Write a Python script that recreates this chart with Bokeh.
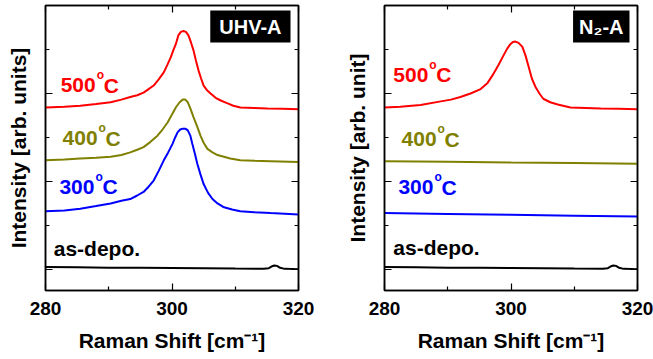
from bokeh.plotting import figure
from bokeh.models import Range1d, FixedTicker, LinearAxis, Label
from bokeh.layouts import row
from bokeh.embed import file_html
from bokeh.resources import INLINE

# ---------------- data ----------------
x_ticks = [280, 300, 320]
x_minor = [290, 310]
y_ticks = [0, 1, 2, 3]
y_minor = [0.5, 1.5, 2.5]

uhv_500_x = [280.0, 283.0, 285.5, 288.0, 290.3, 292.0, 293.4, 294.5, 295.5, 296.3, 297.1, 297.9, 298.7, 299.3,
             299.8, 300.2, 300.6, 301.0, 301.4, 301.8, 302.2, 302.6, 303.0, 303.4, 303.8, 304.2, 304.6, 305.0,
             305.5, 306.1, 306.9, 307.7, 308.7, 309.7, 310.8, 313.0, 315.1, 317.5, 320.0]
uhv_500_y = [1.84, 1.85, 1.86, 1.88, 1.90, 1.93, 1.96, 1.98, 2.01, 2.05, 2.09, 2.16, 2.24, 2.33,
             2.41, 2.49, 2.56, 2.66, 2.70, 2.71, 2.70, 2.66, 2.58, 2.49, 2.37, 2.26, 2.17, 2.09,
             2.04, 2.00, 1.95, 1.92, 1.89, 1.86, 1.84, 1.835, 1.83, 1.825, 1.82]

uhv_400_x = [280.0, 283.0, 285.5, 288.0, 290.3, 292.0, 293.4, 294.5, 295.5, 296.6, 297.7, 298.5, 299.3, 300.0,
             300.6, 301.2, 301.7, 302.1, 302.5, 302.9, 303.4, 304.0, 304.5, 305.0, 305.6, 306.4, 307.2, 308.2,
             309.2, 310.8, 313.0, 315.6, 320.0]
uhv_400_y = [1.24, 1.25, 1.26, 1.27, 1.28, 1.30, 1.33, 1.36, 1.39, 1.45, 1.52, 1.59, 1.67, 1.76,
             1.84, 1.90, 1.93, 1.93, 1.90, 1.83, 1.73, 1.62, 1.52, 1.44, 1.37, 1.33, 1.30, 1.28,
             1.26, 1.24, 1.235, 1.23, 1.22]

uhv_300_x = [280.0, 283.0, 285.5, 288.0, 290.3, 292.0, 293.4, 294.5, 295.5, 296.3, 297.1, 297.9, 298.7, 299.4,
             300.1, 300.5, 300.9, 301.3, 301.7, 302.1, 302.5, 302.9, 303.2, 303.6, 304.0, 304.5, 305.0, 305.7,
             306.4, 307.2, 308.1, 309.5, 310.8, 313.0, 315.6, 320.0]
uhv_300_y = [0.66, 0.67, 0.69, 0.72, 0.75, 0.78, 0.80, 0.84, 0.88, 0.94, 1.01, 1.12, 1.24, 1.33,
             1.43, 1.50, 1.56, 1.59, 1.60, 1.60, 1.58, 1.52, 1.43, 1.32, 1.20, 1.08, 0.97, 0.87,
             0.80, 0.75, 0.71, 0.68, 0.66, 0.65, 0.64, 0.625]

asdepo_x = [280.0, 285.0, 290.0, 295.0, 300.0, 305.0, 310.0, 314.5, 315.3, 315.8, 316.2, 316.6, 317.1, 317.8, 320.0]
asdepo_y = [0.026, 0.023, 0.02, 0.018, 0.016, 0.013, 0.01, 0.008, 0.014, 0.035, 0.045, 0.04, 0.018, 0.006, 0.003]

n2_500_x = [280.0, 282.5, 285.7, 288.9, 290.5, 292.0, 293.6, 295.2, 296.3, 297.2, 298.0, 298.8, 299.4, 299.9,
            300.3, 300.7, 301.2, 301.8, 302.3, 302.8, 303.3, 303.9, 304.5, 305.1, 306.2, 307.4, 309.4, 311.8,
            314.2, 317.0, 320.0]
n2_500_y = [1.84, 1.85, 1.87, 1.91, 1.93, 1.96, 2.00, 2.05, 2.12, 2.22, 2.32, 2.43, 2.51, 2.56,
            2.585, 2.59, 2.575, 2.53, 2.43, 2.30, 2.17, 2.07, 2.00, 1.94, 1.90, 1.875, 1.84, 1.835,
            1.83, 1.825, 1.82]

n2_400_x = [280.0, 290.0, 300.0, 310.0, 320.0]
n2_400_y = [1.23, 1.225, 1.215, 1.21, 1.20]

n2_300_x = [280.0, 290.0, 300.0, 310.0, 320.0]
n2_300_y = [0.64, 0.63, 0.62, 0.61, 0.60]

RED = "#ff0000"
OLIVE = "#808000"
BLUE = "#0000ff"
BLACK = "#000000"
FONT = "Liberation Sans"


def style_axis(ax, labels=True):
    ax.axis_line_color = "black"
    ax.axis_line_width = 1.5
    ax.major_tick_line_color = "black"
    ax.minor_tick_line_color = "black"
    ax.major_tick_line_width = 1.2
    ax.minor_tick_line_width = 1.2
    ax.major_tick_in = 7
    ax.major_tick_out = 0
    ax.minor_tick_in = 4
    ax.minor_tick_out = 0
    if labels:
        ax.major_label_text_font = FONT
        ax.major_label_text_font_style = "bold"
        ax.major_label_text_font_size = "19px"
        ax.major_label_text_color = "black"
        ax.major_label_standoff = 11
    else:
        ax.major_label_text_font_size = "1px"
        ax.major_label_text_alpha = 0
        ax.major_label_text_color = None
        ax.major_label_standoff = 0


def make_panel(width, bl, br, ylabel):
    p = figure(width=width, height=359, output_backend="svg", toolbar_location=None,
               x_range=Range1d(280, 320), y_range=Range1d(-0.24, 3.0),
               min_border_left=bl, min_border_right=br, min_border_top=5, min_border_bottom=69,
               x_axis_location=None, y_axis_location=None)
    p.xgrid.visible = False
    p.ygrid.visible = False
    p.outline_line_color = "black"
    p.outline_line_width = 1.5
    p.background_fill_color = "white"
    p.border_fill_color = "white"

    bottom = LinearAxis(ticker=FixedTicker(ticks=x_ticks, minor_ticks=x_minor))
    style_axis(bottom, labels=True)
    bottom.axis_label = "Raman Shift [cm\u207b\u00b9]"
    bottom.axis_label_text_font = FONT
    bottom.axis_label_text_font_style = "bold"
    bottom.axis_label_text_font_size = "21px"
    bottom.axis_label_text_color = "black"
    bottom.axis_label_standoff = 11
    p.add_layout(bottom, "below")

    top = LinearAxis(ticker=FixedTicker(ticks=x_ticks, minor_ticks=x_minor))
    style_axis(top, labels=False)
    p.add_layout(top, "above")

    left = LinearAxis(ticker=FixedTicker(ticks=y_ticks, minor_ticks=y_minor))
    style_axis(left, labels=False)
    left.axis_label = ylabel
    left.axis_label_text_font = FONT
    left.axis_label_text_font_style = "bold"
    left.axis_label_text_font_size = "21px"
    left.axis_label_text_color = "black"
    left.axis_label_standoff = 16
    p.add_layout(left, "left")

    right = LinearAxis(ticker=FixedTicker(ticks=y_ticks, minor_ticks=y_minor))
    style_axis(right, labels=False)
    p.add_layout(right, "right")
    return p


def temp_label(p, x, y, num, color):
    p.add_layout(Label(x=x, y=y, text=num, text_color=color, text_font=FONT,
                       text_font_style="bold", text_font_size="21px",
                       text_align="left", text_baseline="alphabetic"))
    p.add_layout(Label(x=x, y=y, x_offset=36, y_offset=10, text="o", text_color=color, text_font=FONT,
                       text_font_style="bold", text_font_size="12px",
                       text_align="left", text_baseline="alphabetic"))
    p.add_layout(Label(x=x, y=y, x_offset=43, text="C", text_color=color, text_font=FONT,
                       text_font_style="bold", text_font_size="21px",
                       text_align="left", text_baseline="alphabetic"))


def plain_label(p, x, y, txt, color):
    p.add_layout(Label(x=x, y=y, text=txt, text_color=color, text_font=FONT,
                       text_font_style="bold", text_font_size="21px",
                       text_align="left", text_baseline="alphabetic"))


def box_label(p, txt, pad):
    p.add_layout(Label(x=320, y=3.0, x_offset=-8, y_offset=-5, text=txt, text_color="white",
                       text_font=FONT, text_font_style="bold", text_font_size="20px",
                       text_align="right", text_baseline="top",
                       background_fill_color="black", padding=pad))


# ---------------- left panel ----------------
p1 = make_panel(330, 45, 32, "Intensity [arb. units]")
p1.line(uhv_500_x, uhv_500_y, line_color=RED, line_width=2)
p1.line(uhv_400_x, uhv_400_y, line_color=OLIVE, line_width=2)
p1.line(uhv_300_x, uhv_300_y, line_color=BLUE, line_width=2)
p1.line(asdepo_x, asdepo_y, line_color=BLACK, line_width=2)
temp_label(p1, 282.4, 2.095, "500", RED)
temp_label(p1, 282.7, 1.49, "400", OLIVE)
temp_label(p1, 282.2, 0.94, "300", BLUE)
plain_label(p1, 281.3, 0.235, "as-depo.", BLACK)
box_label(p1, "UHV-A", (9, 5))

# ---------------- right panel ----------------
p2 = make_panel(323, 54, 16, "Intensity [arb. unit]")
p2.line(n2_500_x, n2_500_y, line_color=RED, line_width=2)
p2.line(n2_400_x, n2_400_y, line_color=OLIVE, line_width=2)
p2.line(n2_300_x, n2_300_y, line_color=BLUE, line_width=2)
p2.line(asdepo_x, asdepo_y, line_color=BLACK, line_width=2)
temp_label(p2, 281.4, 2.21, "500", RED)
temp_label(p2, 282.7, 1.48, "400", OLIVE)
temp_label(p2, 282.2, 0.935, "300", BLUE)
plain_label(p2, 281.4, 0.245, "as-depo.", BLACK)
box_label(p2, "N\u2082-A", (6, 5))

layout = row(p1, p2)
open("out.html", "w").write(file_html(layout, INLINE))
